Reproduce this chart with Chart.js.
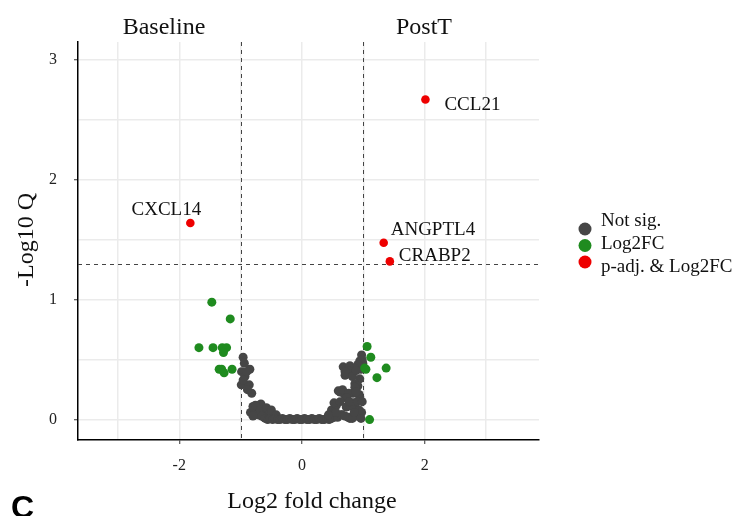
<!DOCTYPE html>
<html><head><meta charset="utf-8">
<script src="https://cdn.jsdelivr.net/npm/chart.js@4"></script>
<style>html,body{margin:0;padding:0;background:#fff}#wrap{width:736px;height:516px;position:relative}</style>
</head><body><div id="wrap"><canvas id="c"></canvas></div>
<script>
// ---- data ----
const notSigX = [-0.96,-0.985,-0.85,-0.93,-0.99,-0.86,-0.82,-0.84,-0.78,-0.70,-0.64,-0.60,-0.55,-0.49,-0.45,-0.72,-0.62,-0.80,-0.67,
  -0.94,-0.90,-0.96,-0.89,-0.76,-0.68,-0.58,-0.50,-0.42,-0.80,-0.66,
  -0.60,-0.56,-0.52,-0.48,-0.44,-0.40,-0.36,-0.32,-0.28,-0.24,-0.20,-0.16,-0.12,-0.08,-0.04,0.00,0.04,0.08,0.12,0.16,0.20,0.24,0.28,0.32,0.36,0.40,0.44,0.48,0.52,
  0.97,0.94,0.98,0.96,0.67,0.78,0.83,0.70,0.72,0.94,0.86,0.91,0.62,0.69,0.83,0.93,0.94,0.48,0.56,0.72,0.86,0.93,0.51,0.65,0.78,0.90,0.47,0.58,0.64,0.75,0.89,0.84,0.80,
  0.99,0.91,0.86,0.74,0.70,0.82,0.88,0.86,0.59,0.66,0.76,0.88,0.73,0.52,0.62,0.77,0.90,0.98,0.97,0.55,0.70,0.82,0.96,0.43,0.85];
const notSigY = [0.52,0.40,0.42,0.36,0.29,0.29,0.22,0.06,0.09,0.12,0.10,0.07,0.05,0.05,0.03,0.04,0.02,0.11,0.13,
  0.47,0.40,0.33,0.25,0.12,0.08,0.10,0.08,0.04,0.03,0.03,
  0.01,0.00,0.01,0.00,0.01,0.00,0.00,0.01,0.00,0.00,0.01,0.00,0.00,0.01,0.00,0.00,0.01,0.00,0.00,0.01,0.00,0.00,0.01,0.00,0.00,0.01,0.00,0.01,0.02,
  0.54,0.49,0.50,0.42,0.44,0.45,0.39,0.37,0.38,0.34,0.30,0.28,0.23,0.21,0.22,0.21,0.19,0.08,0.12,0.105,0.12,0.08,0.06,0.04,0.01,0.03,0.01,0.02,0.04,0.02,0.04,0.14,0.11,
  0.47,0.46,0.43,0.41,0.40,0.36,0.41,0.27,0.24,0.25,0.22,0.23,0.18,0.14,0.15,0.15,0.15,0.15,0.06,0.06,0.03,0.01,0.01,0.04,0.06];
const fcX = [-1.47,-1.17,-1.68,-1.45,-1.30,-1.23,-1.28,-1.35,-1.31,-1.27,-1.14, 1.06,1.12,1.04,1.02,1.37,1.22,1.10];
const fcY = [0.98,0.84,0.60,0.60,0.60,0.60,0.56,0.42,0.42,0.39,0.42, 0.61,0.52,0.42,0.43,0.43,0.35,0.00];
const sigX = [2.01,-1.82,1.33,1.43];
const sigY = [2.67,1.64,1.475,1.32];
const sigGenes = ['CCL21','CXCL14','ANGPTL4','CRABP2'];
const xLabeledTicks = [-2,0,2];
const yLabeledTicks = [0,1,2,3];
const fcCut = [-1,1];
const qCut = 1.30;
const legendLabels = ['Not sig.','Log2FC','p-adj. & Log2FC'];
const groupLabels = ['Baseline','PostT'];
const xTitle = 'Log2 fold change';
const yTitle = '-Log10 Q';
const panelTag = 'C';

// ---- styles ----
const COLORS = ['#464646','#1f8b1f','#ee0000'];
const SERIF = '"Liberation Serif", "DejaVu Serif", serif';
// label offsets (px) relative to the point: [dx, dy, align]
const labelOffsets = [[19,10,'left'],[-24,-8,'center'],[7,-8,'left'],[9,0,'left']];

const toPts = (xs, ys) => xs.map((x,i)=>({x, y: ys[i]}));

const decor = {
  id: 'decor',
  beforeDatasetsDraw(chart){
    const {ctx, chartArea:a, scales:{x,y}} = chart;
    ctx.save();
    ctx.strokeStyle = '#444'; ctx.lineWidth = 1; ctx.setLineDash([4,4]);
    fcCut.forEach(v=>{ const px = Math.round(x.getPixelForValue(v))+0.5;
      ctx.beginPath(); ctx.moveTo(px,a.top); ctx.lineTo(px,a.bottom); ctx.stroke(); });
    const py = Math.round(y.getPixelForValue(qCut))+0.5;
    ctx.beginPath(); ctx.moveTo(a.left,py); ctx.lineTo(a.right,py); ctx.stroke();
    ctx.restore();
  },
  afterDraw(chart){
    const {ctx, scales:{x,y}} = chart;
    ctx.save();
    ctx.fillStyle = '#111';
    ctx.font = '19px ' + SERIF; ctx.textBaseline = 'alphabetic';
    sigGenes.forEach((g,i)=>{
      const o = labelOffsets[i];
      ctx.textAlign = o[2];
      ctx.fillText(g, x.getPixelForValue(sigX[i]) + o[0], y.getPixelForValue(sigY[i]) + o[1]);
    });
    // legend
    const legY = [229, 245.5, 262];
    const legTextY = [221, 244, 267];
    legendLabels.forEach((t,i)=>{
      ctx.fillStyle = COLORS[i];
      ctx.beginPath(); ctx.arc(585, legY[i], 6.5, 0, Math.PI*2); ctx.fill();
      ctx.fillStyle = '#111'; ctx.textAlign='left'; ctx.textBaseline='middle';
      ctx.font = '19px ' + SERIF;
      ctx.fillText(t, 601, legTextY[i]);
    });
    // group labels
    ctx.font = '24px ' + SERIF; ctx.textAlign='center'; ctx.textBaseline='alphabetic'; ctx.fillStyle='#111';
    ctx.fillText(groupLabels[0], 164, 34);
    ctx.fillText(groupLabels[1], 424, 34);
    // axis titles
    ctx.fillText(xTitle, 312, 508);
    ctx.save(); ctx.translate(33, 240); ctx.rotate(-Math.PI/2);
    ctx.fillText(yTitle, 0, 0); ctx.restore();
    // panel tag
    ctx.font = 'bold 32px "Liberation Sans", Arial, sans-serif'; ctx.textAlign='left'; ctx.fillStyle='#000';
    ctx.fillText(panelTag, 11, 518);
    ctx.restore();
  }
};

const isLab = (arr, v) => arr.some(t => Math.abs(t - v) < 1e-9);

new Chart(document.getElementById('c'), {
  type: 'scatter',
  data: { datasets: [
    { label: legendLabels[2], data: toPts(sigX, sigY), backgroundColor: COLORS[2], pointRadius: 4.3, borderWidth: 0 },
    { label: legendLabels[1], data: toPts(fcX, fcY), backgroundColor: COLORS[1], pointRadius: 4.5, borderWidth: 0 },
    { label: legendLabels[0], data: toPts(notSigX, notSigY), backgroundColor: COLORS[0], pointRadius: 4.5, borderWidth: 0 }
  ]},
  options: {
    responsive: true, maintainAspectRatio: false, animation: false,
    layout: { padding: { left: 0, right: 197, top: 42, bottom: 0 } },
    plugins: { legend: { display: false }, tooltip: { enabled: false } },
    scales: {
      x: {
        type: 'linear', min: -3.65, max: 3.86,
        ticks: { stepSize: 1, includeBounds: false, autoSkip: false, maxRotation: 0,
          callback: v => isLab(xLabeledTicks, v) ? String(v) : '',
          font: { family: SERIF, size: 16 }, color: '#222', padding: 12 },
        grid: { color: '#ebebeb', lineWidth: 1.5, tickLength: 4, tickWidth: 1,
          tickColor: c => (c.tick && isLab(xLabeledTicks, c.tick.value)) ? '#333' : 'rgba(0,0,0,0)' },
        border: { display: true, color: '#000', width: 1.5 },
        afterFit(s){ s.height = 76; }
      },
      y: {
        type: 'linear', min: -0.17, max: 3.15,
        ticks: { stepSize: 0.5, includeBounds: false, autoSkip: false,
          callback: v => isLab(yLabeledTicks, v) ? String(v) : '',
          font: { family: SERIF, size: 16 }, color: '#222', padding: 17 },
        grid: { color: '#ebebeb', lineWidth: 1.5, tickLength: 4, tickWidth: 1,
          tickColor: c => (c.tick && isLab(yLabeledTicks, c.tick.value)) ? '#333' : 'rgba(0,0,0,0)' },
        border: { display: true, color: '#000', width: 1.5 },
        afterFit(s){ s.width = 78; }
      }
    }
  },
  plugins: [decor]
});
</script>
</body></html>
